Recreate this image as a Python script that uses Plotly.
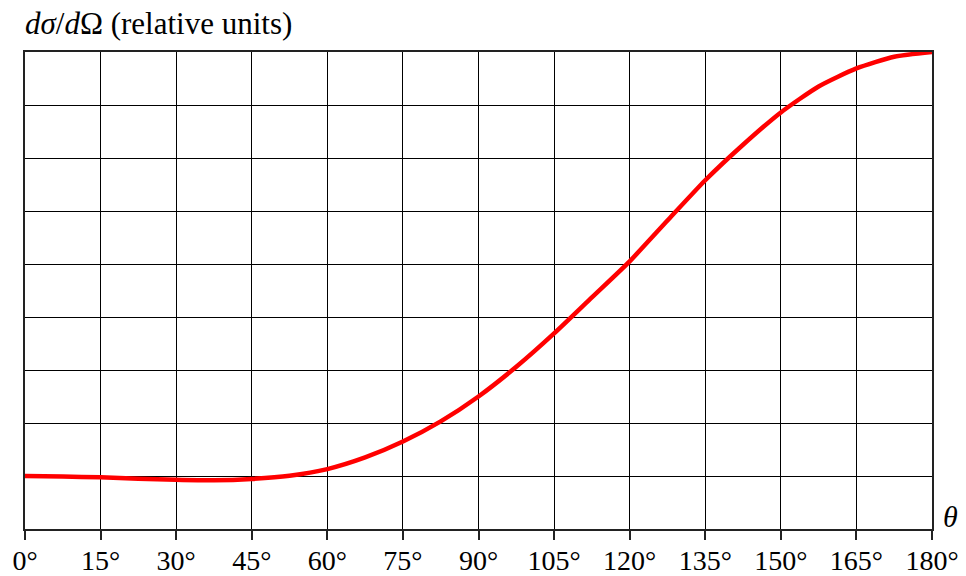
import plotly.graph_objects as go

theta_deg = [0, 7.5, 15, 22.5, 30, 37.5, 45, 52.5, 60, 67.5, 75, 82.5, 90, 97.5,
             105, 112.5, 120, 127.5, 135, 142.5, 150, 157.5, 165, 172.5, 180]
cross_section = [1.0, 0.99, 0.975, 0.95, 0.93, 0.92, 0.945, 1.005, 1.13, 1.35, 1.65,
                 2.03, 2.5, 3.06, 3.69, 4.37, 5.05, 5.82, 6.58, 7.25, 7.86, 8.35,
                 8.69, 8.91, 9.0]
x_ticks = list(range(0, 181, 15))
x_tick_labels = [f"{t}°" for t in x_ticks]
y_ticks = list(range(0, 10))

FONT = "Liberation Serif"
FS = 28

fig = go.Figure()
fig.add_trace(go.Scatter(x=theta_deg, y=cross_section, mode="lines",
                         line=dict(color="#ff0000", width=4.5, shape="spline", smoothing=0.6),
                         hoverinfo="skip", showlegend=False, cliponaxis=False))

fig.update_layout(
    width=958, height=568,
    margin=dict(l=17, r=34, t=44, b=47, autoexpand=False),
    paper_bgcolor="white", plot_bgcolor="white",
    font=dict(family=FONT, size=FS, color="black"),
    xaxis=dict(range=[0, 180], tickvals=x_ticks, ticktext=x_tick_labels,
               showgrid=True, gridcolor="black", gridwidth=1.2,
               showline=True, linecolor="#222", linewidth=1.5, mirror=True,
               ticks="outside", ticklen=9, tickwidth=1.5, tickcolor="#222",
               zeroline=False, tickfont=dict(family=FONT, size=FS),
               ticklabelstandoff=-3,
               automargin=False, ticklabeloverflow="allow"),
    yaxis=dict(range=[0, 9], tickvals=y_ticks, showticklabels=False,
               showgrid=True, gridcolor="black", gridwidth=1.2,
               showline=True, linecolor="#222", linewidth=1.5, mirror=True,
               ticks="", zeroline=False, automargin=False),
    annotations=[
        dict(text="<i>dσ</i>/<i>d</i>Ω (relative units)", xref="paper", yref="paper",
             x=0, y=1, xanchor="left", yanchor="bottom", yshift=9, xshift=-2,
             showarrow=False, font=dict(family=FONT, size=31)),
        dict(text="<i>θ</i>", xref="paper", yref="paper", x=1, y=0,
             xanchor="left", yanchor="middle", xshift=9, yshift=13,
             showarrow=False, font=dict(family=FONT, size=30)),
    ],
)

fig.write_html("out.html")
